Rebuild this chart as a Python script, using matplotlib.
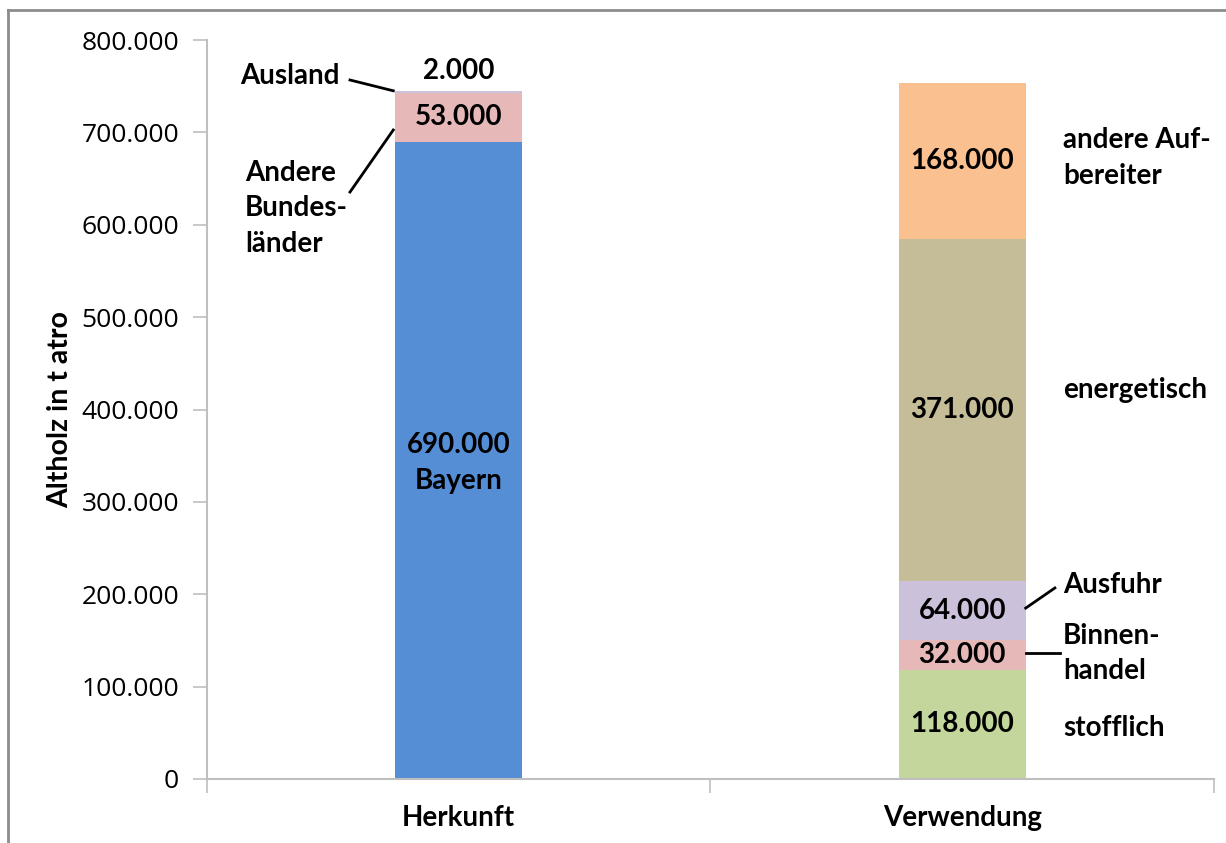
import matplotlib
matplotlib.use("Agg")
import matplotlib.pyplot as plt
from matplotlib.lines import Line2D

categories = ["Herkunft", "Verwendung"]
herkunft_labels = ["Bayern", "Andere Bundesländer", "Ausland"]
herkunft_values = [690000, 53000, 2000]
herkunft_colors = ["#558ED5", "#E6B9B8", "#CCC1DA"]
verwendung_labels = ["stofflich", "Binnenhandel", "Ausfuhr", "energetisch", "andere Aufbereiter"]
verwendung_values = [118000, 32000, 64000, 371000, 168000]
verwendung_colors = ["#C3D69B", "#E6B9B8", "#CCC1DA", "#C4BD97", "#FAC090"]
yticks = [0, 100000, 200000, 300000, 400000, 500000, 600000, 700000, 800000]

def fmt(v):
    return f"{v:,}".replace(",", ".")

LBL = "Lato"
plt.rcParams['font.family'] = ['Lato', 'DejaVu Sans']

fig = plt.figure(figsize=(12.26, 8.43), dpi=100)
ax = fig.add_axes([207/1226, 1-779/843, (1214-207)/1226, (779-40)/843])

W = 0.252
axcol = "#BFBFBF"

# Herkunft stack
bottom = 0
hk_bottoms = []
for v, c in zip(herkunft_values, herkunft_colors):
    ax.bar(0, v, W, bottom=bottom, color=c, edgecolor="none")
    hk_bottoms.append(bottom)
    bottom += v
hk_total = bottom

# Verwendung stack
bottom = 0
vw_bottoms = []
for v, c in zip(verwendung_values, verwendung_colors):
    ax.bar(1, v, W, bottom=bottom, color=c, edgecolor="none")
    vw_bottoms.append(bottom)
    bottom += v

ax.set_xlim(-0.5, 1.5)
ax.set_ylim(0, 800000)
ax.set_yticks(yticks)
ax.set_yticklabels([fmt(t) for t in yticks], fontsize=19, family="Open Sans")
ax.set_xticks([-0.5, 0.5, 1.5], minor=False)
ax.set_xticklabels(["", "", ""])
ax.tick_params(axis="x", length=10, color=axcol, width=1.2)
ax.tick_params(axis="y", length=10, color=axcol, width=1.2, pad=10)
for s in ["top", "right"]:
    ax.spines[s].set_visible(False)
for s in ["left", "bottom"]:
    ax.spines[s].set_color(axcol)
    ax.spines[s].set_linewidth(1.5)

for i, cat in enumerate(categories):
    ax.text(i, -42000, cat, ha="center", va="center", fontsize=20,
            fontweight="bold", family=LBL)

ax.set_ylabel("Altholz in t atro", fontsize=20.5, fontweight="bold", family=LBL, labelpad=6)

fs = 20
bold = dict(fontsize=fs, fontweight="bold", family=LBL)

# Herkunft labels
ax.text(0, hk_bottoms[0] + herkunft_values[0] / 2 - 3000, fmt(herkunft_values[0]) + "\n" + herkunft_labels[0],
        ha="center", va="center", linespacing=1.5, **bold)
ax.text(0, hk_bottoms[1] + herkunft_values[1] / 2, fmt(herkunft_values[1]),
        ha="center", va="center", **bold)
ax.text(0, hk_total + 21000, fmt(herkunft_values[2]), ha="center", va="center", **bold)
# Ausland
ax.text(-0.335, 761000, "Ausland", ha="center", va="center", **bold)
ax.add_line(Line2D([-0.216, -W / 2 - 0.004], [756700, hk_total], color="black", lw=2))
# Andere Bundeslaender
ax.text(-0.4245, 618000, "Andere\nBundes-\nländer", ha="left", va="center",
        linespacing=1.45, **bold)
ax.add_line(Line2D([-0.216, -W / 2 - 0.004], [635400, 702600], color="black", lw=2))

# Verwendung value labels
for b, v in zip(vw_bottoms, verwendung_values):
    ax.text(1, b + v / 2, fmt(v), ha="center", va="center", **bold)

tx = 1.200
ax.text(tx, vw_bottoms[0] + verwendung_values[0] / 2 - 4000, "stofflich", ha="left", va="center", **bold)
ax.text(tx, vw_bottoms[1] + verwendung_values[1] / 2 + 2000, "Binnen-\nhandel", ha="left", va="center",
        linespacing=1.4, **bold)
ax.add_line(Line2D([W / 2 + 1, 1.194], [vw_bottoms[1] + verwendung_values[1] / 2 + 2000] * 2,
                   color="black", lw=2))
ax.text(tx, 210000, "Ausfuhr", ha="left", va="center", **bold)
ax.add_line(Line2D([1 + W / 2, 1.184], [185000, 206800], color="black", lw=2))
ax.text(tx, 421000, "energetisch", ha="left", va="center", **bold)
ax.text(tx, 672000, "andere Auf-\nbereiter", ha="left", va="center", linespacing=1.48, **bold)

for l in [Line2D([8/1226, 8/1226], [0, 1 - 10/843], transform=fig.transFigure, color="#8C8C8C", lw=2),
          Line2D([8/1226, 1], [1 - 10/843, 1 - 10/843], transform=fig.transFigure, color="#8C8C8C", lw=2)]:
    fig.add_artist(l)

fig.savefig("out.png", dpi=100)
